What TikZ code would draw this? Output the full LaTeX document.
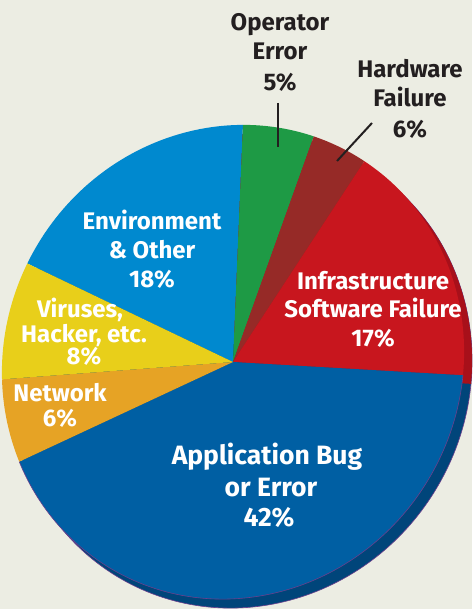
\documentclass[tikz,border=0pt]{standalone}
\usepackage{fontspec}
\setmainfont{Fira Sans}
\definecolor{bg}{HTML}{ECEDE3}
\definecolor{cenv}{HTML}{0089CF}
\definecolor{cop}{HTML}{1E9A45}
\definecolor{chw}{HTML}{962A27}
\definecolor{cinf}{HTML}{C8161E}
\definecolor{capp}{HTML}{005FA3}
\definecolor{cnet}{HTML}{E6A325}
\definecolor{cvir}{HTML}{E8CF1A}
\definecolor{sideblue}{HTML}{00457A}
\definecolor{sidered}{HTML}{A8101A}
\definecolor{rim}{HTML}{6B3F8C}
\definecolor{ink}{HTML}{231F20}
\newcommand\pieoval[2]{\fill[#1, shift={(#2)}, rotate=60] (0,0) ellipse [x radius=240, y radius=228];}
\newcommand\pieslice[3]{\begin{scope}\clip (O) -- ++(#1:700) arc[start angle=#1, end angle=#2, radius=700] -- cycle; \pieoval{#3}{O}\end{scope}}
\tikzset{
  lbl/.style={font=\fontsize{24}{28}\selectfont\bfseries, anchor=base, inner sep=0pt, text=ink},
  wlbl/.style={lbl, text=white},
  biglbl/.style={wlbl, font=\fontsize{26.5}{30}\selectfont\bfseries},
  tick/.style={draw=ink, line width=2pt}
}
\begin{document}
\begin{tikzpicture}[x=1pt,y=1pt]
\fill[bg] (0,0) rectangle (472,609);
\useasboundingbox (0,0) rectangle (472,609);
\coordinate (O) at (233,247);
\coordinate (S) at (241,238);
% side of the disc
\begin{scope}
  \clip (0,0) rectangle (472,609);
  \pieoval{sideblue}{S}
  \draw[rim, line width=0.6pt, shift={(S)}, rotate=60] (0,0) ellipse [x radius=240, y radius=228];
  \begin{scope}
    \clip (S) -- ++(-3.2:700) arc[start angle=-3.2, end angle=100, radius=700] -- cycle;
    \pieoval{sidered}{S}
  \end{scope}
\end{scope}
% top face
\pieslice{87.6}{154.4}{cenv}
\pieslice{70.3}{87.6}{cop}
\pieslice{56.8}{70.3}{chw}
\pieslice{-3.3}{56.8}{cinf}
\begin{scope}
  \clip (O) -- ++(-155:700) arc[start angle=-155, end angle=-3.3, radius=700] -- cycle;
  \pieoval{capp}{O}
  \draw[rim, line width=0.6pt, shift={(O)}, rotate=60] (0,0) ellipse [x radius=240, y radius=228];
\end{scope}
\pieslice{184.3}{205}{cnet}
\pieslice{154.4}{184.3}{cvir}
% outside labels
\node[lbl] (op1) at (280,578) {Operator};
\node[lbl] (op2) at (280,549) {Error};
\node[lbl] (op3) at (280,518) {5\%};
\coordinate (opa) at (278,506);
\coordinate (opb) at (278,462);
\draw[tick] (opa) -- (opb);
\node[lbl] (hw1) at (410,531) {Hardware};
\node[lbl] (hw2) at (410,502) {Failure};
\node[lbl] (hw3) at (410,471) {6\%};
\coordinate (hwa) at (372,486);
\coordinate (hwb) at (337,448);
\draw[tick] (hwa) -- (hwb);
% inside labels
\node[wlbl] (en1) at (152,379) {Environment};
\node[wlbl] (en2) at (152,350) {\& Other};
\node[wlbl] (en3) at (152,321) {18\%};
\node[wlbl] (in1) at (373,319) {Infrastructure};
\node[wlbl] (in2) at (373,291) {Software Failure};
\node[wlbl] (in3) at (373,262) {17\%};
\node[wlbl] (vi1) at (80,291) {Viruses,};
\node[wlbl] (vi2) at (84,266) {Hacker, etc.};
\node[wlbl] (vi3) at (84,244) {8\%};
\node[wlbl] (ne1) at (60,207) {Network};
\node[wlbl] (ne2) at (60,182) {6\%};
\node[biglbl] (ap1) at (267,144) {Application Bug};
\node[biglbl] (ap2) at (271,112) {or Error};
\node[biglbl] (ap3) at (269,82) {42\%};
\end{tikzpicture}
\end{document}
